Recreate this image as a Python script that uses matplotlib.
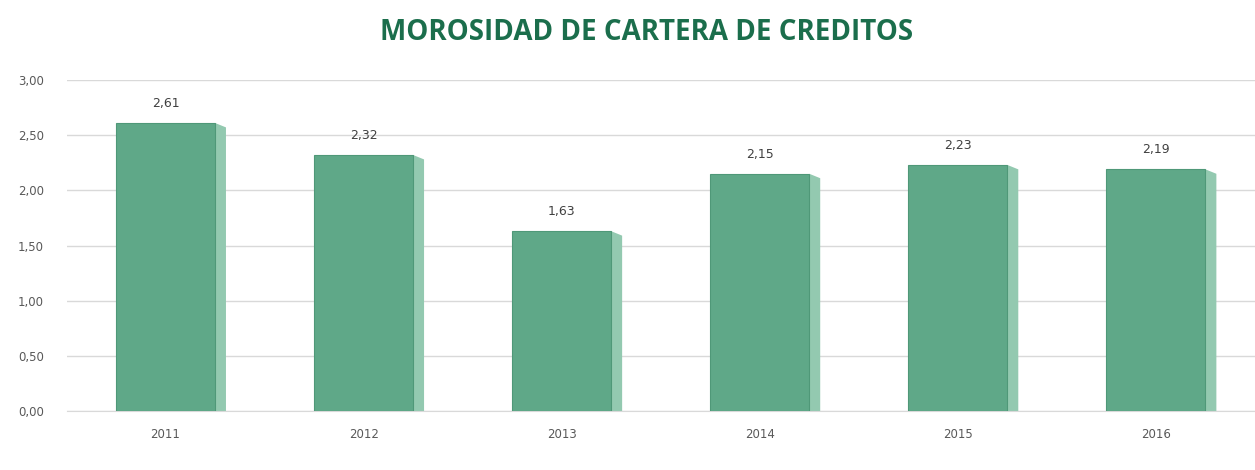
import matplotlib.pyplot as plt
import numpy as np

years = ["2011", "2012", "2013", "2014", "2015", "2016"]
morosidad = [2.61, 2.32, 1.63, 2.15, 2.23, 2.19]
yticks = [0.0, 0.5, 1.0, 1.5, 2.0, 2.5, 3.0]

FRONT = "#5fa888"
SIDE = "#93c9b0"
EDGE = "#4f9878"
TITLE = "#1b6e4c"

fig = plt.figure(figsize=(12.55, 4.70), dpi=100)
ax = fig.add_axes([0.053, 0.125, 0.947, 0.705])

x = np.arange(len(years))
w = 0.5
depth = 0.055
drop = 0.04

# lighter side face for the 3D look
for xi, v in zip(x, morosidad):
    right = xi + w / 2
    ax.fill([right, right + depth, right + depth, right],
            [0, 0, v - drop, v], color=SIDE, zorder=2, lw=0)
ax.bar(x, morosidad, width=w, color=FRONT, edgecolor=EDGE, linewidth=0.8, zorder=3)

for xi, v in zip(x, morosidad):
    ax.text(xi, v + 0.12, f"{v:.2f}".replace(".", ","), ha="center", va="bottom",
            fontsize=9, color="#404040")

ax.set_xlim(-0.5, len(years) - 0.5)
ax.set_ylim(0, 3.0)
ax.set_yticks(yticks)
ax.set_yticklabels([f"{t:.2f}".replace(".", ",") for t in yticks], fontsize=8.5, color="#595959")
ax.set_xticks(x)
ax.set_xticklabels(years, fontsize=8.5, color="#595959")
ax.tick_params(length=0, pad=12)
ax.tick_params(axis="y", pad=35)
for t in ax.get_yticklabels():
    t.set_horizontalalignment("left")
ax.grid(axis="y", color="#d9d9d9", linewidth=1, zorder=0)
ax.set_axisbelow(True)
for s in ["top", "right", "left"]:
    ax.spines[s].set_visible(False)
ax.spines["bottom"].set_color("#d9d9d9")

fig.text(0.515, 0.93, "MOROSIDAD DE CARTERA DE CREDITOS", ha="center", va="center",
         fontsize=20, fontweight="bold", color=TITLE, family="Open Sans")

fig.savefig("out.png", dpi=100)
